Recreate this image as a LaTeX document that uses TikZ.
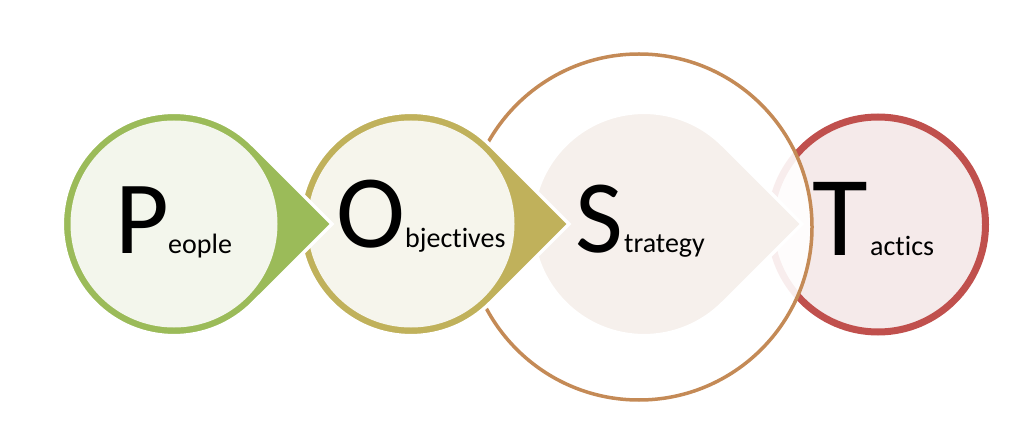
\documentclass[tikz,border=0pt]{standalone}
\usepackage{fontspec}
\setmainfont{Carlito}[Ligatures=NoCommon]
\usetikzlibrary{calc}
\definecolor{pgreen}{HTML}{9BBB59}
\definecolor{pgreenl}{HTML}{F3F6EC}
\definecolor{oolive}{HTML}{C0B15B}
\definecolor{oolivel}{HTML}{F6F5EC}
\definecolor{sbrown}{HTML}{C48A56}
\definecolor{sfill}{HTML}{F6F0EC}
\definecolor{tred}{HTML}{C0504D}
\definecolor{tfill}{HTML}{F5EAEA}
\begin{document}
\begin{tikzpicture}[x=1pt,y=1pt,
  bigletter/.style={font=\fontsize{104}{104}\selectfont, inner sep=0pt, anchor=base west},
  smallword/.style={font=\fontsize{28}{28}\selectfont, inner sep=0pt, anchor=base west},
  tear/.style={line width=3.5pt, draw=white, line join=miter}]
\useasboundingbox (0,0) rectangle (1024,431);
\coordinate (cP) at (174,207);
\coordinate (cO) at (411,207);
\coordinate (cS) at (644,207);
\coordinate (cT) at (878,206.5);
\coordinate (cB) at (639,204);
% Tactics
\path[fill=tfill, draw=tred, line width=7pt] (cT) circle[radius=107.5];
% Strategy big circle
\path[fill=white, fill opacity=0.9, draw=sbrown, line width=3.5pt] (cB) circle[radius=173];
% Strategy teardrop
\path[tear, fill=sfill] ($(cS)+(158,0)$) -- ($(cS)+(45:111.7)$) arc[start angle=45,end angle=315,radius=111.7] -- cycle;
% Objectives
\path[tear, fill=oolive] ($(cO)+(158,0)$) -- ($(cO)+(45:111.7)$) arc[start angle=45,end angle=315,radius=111.7] -- cycle;
\path[fill=oolivel] (cO) circle[radius=103.5];
% People
\path[tear, fill=pgreen] ($(cP)+(158,0)$) -- ($(cP)+(45:111.7)$) arc[start angle=45,end angle=315,radius=111.7] -- cycle;
\path[fill=pgreenl] (cP) circle[radius=103.5];
% texts
\node[bigletter] (P) at (115,177) {P};
\node[smallword] (people) at (168,177) {eople};
\node[bigletter] (O) at (336,183) {O};
\node[smallword] (objectives) at (405,183) {bjectives};
\node[bigletter] (S) at (575,178) {S};
\node[smallword] (strategy) at (624,178) {trategy};
\node[bigletter, font=\fontsize{114}{114}\selectfont] (T) at (812,175) {T};
\node[smallword] (tactics) at (870,175) {actics};
\end{tikzpicture}
\end{document}
